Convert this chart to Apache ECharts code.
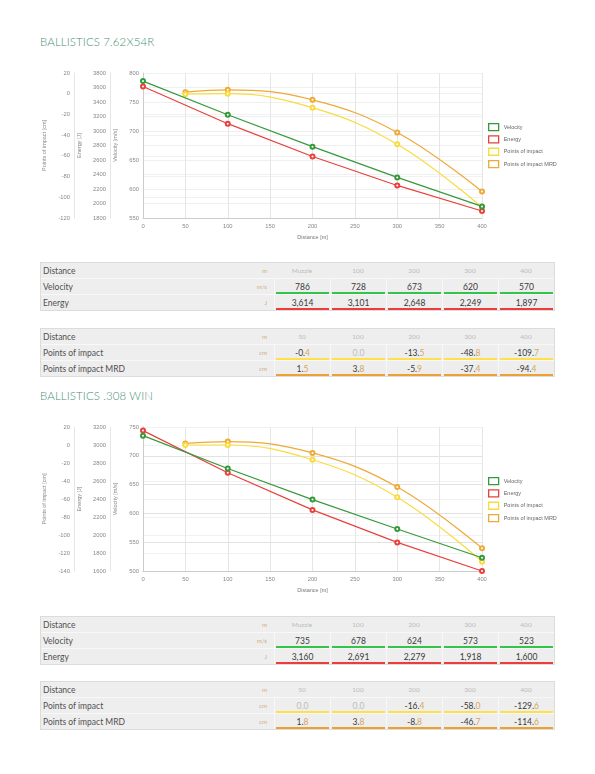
<!DOCTYPE html>
<html>
<head>
<meta charset="utf-8">
<script src="https://cdn.jsdelivr.net/npm/echarts@6/dist/echarts.min.js"></script>
<style>
  html, body { margin: 0; padding: 0; background: #fff; }
  body { width: 595px; height: 774px; position: relative; overflow: hidden; font-family: Lato, "Open Sans", sans-serif; }
  .title { position: absolute; left: 40px; font-size: 11.5px; font-weight: 300; color: #4b8f73; letter-spacing: 0.1px; white-space: nowrap; }
  .chart { position: absolute; left: 0; width: 595px; height: 190px; }
  table.tbl { position: absolute; left: 40px; width: 514px; table-layout: fixed; border-collapse: separate; border-spacing: 0;
    background: #eeeeee; border: 1px solid #dcdcdc; }
  table.tbl td { height: 15px; padding: 0; white-space: nowrap; overflow: hidden; vertical-align: middle; border-top: 1px solid #f8f8f8; }
  table.tbl tr:first-child td { border-top: none; }
  td.lab { font-size: 8.5px; font-weight: 400; color: #505050; padding-left: 2px !important; }
  td.unit { font-size: 6.2px; font-weight: 400; color: #cfae85; text-align: right; padding-right: 7px !important; }
  td.head { font-size: 6.5px; font-weight: 400; color: #bcbcbc; text-align: center; }
  td.val { font-size: 8.5px; font-weight: 400; color: #3a3a3a; text-align: center; position: relative; border-left: 1px solid #f8f8f8; }
  td.val::after { content: ""; position: absolute; left: 1px; right: 1px; bottom: 0; height: 2px; background: var(--c); }
  span.dec { color: #d7a55a; }
  span.zero { color: #bdbdbd; }
</style>
</head>
<body>
<div class="title" style="top:35px">BALLISTICS 7.62X54R</div>
<div id="c1" class="chart" style="top:60px"></div>
<div class="title" style="top:389px">BALLISTICS .308 WIN</div>
<div id="c2" class="chart" style="top:415px"></div>

<script>
// ---------- data ----------
const distances = [0, 100, 200, 300, 400];
const poiDistances = [50, 100, 200, 300, 400];
const distanceLabels = ['Muzzle', '100', '200', '300', '400'];
const poiDistanceLabels = ['50', '100', '200', '300', '400'];
const seriesNames = ['Velocity', 'Energy', 'Points of impact', 'Points of impact MRD'];

const velocity762 = [786, 728, 673, 620, 570];
const energy762 = [3614, 3101, 2648, 2249, 1897];
const poi762 = [-0.4, 0.0, -13.5, -48.8, -109.7];
const poiMrd762 = [1.5, 3.8, -5.9, -37.4, -94.4];

const velocity308 = [735, 678, 624, 573, 523];
const energy308 = [3160, 2691, 2279, 1918, 1600];
const poi308 = [0.0, 0.0, -16.4, -58.0, -129.6];
const poiMrd308 = [1.8, 3.8, -8.8, -46.7, -114.6];

// axis ranges [min, max, step]
const distanceAxis = [0, 400, 50];
const velocityAxis762 = [550, 800, 50];
const energyAxis762 = [1800, 3800, 200];
const poiAxis762 = [-120, 20, 20];
const velocityAxis308 = [500, 750, 50];
const energyAxis308 = [1600, 3200, 200];
const poiAxis308 = [-140, 20, 20];

// ---------- styles ----------
const lineColors = ['#36993a', '#e8413c', '#f8dc3e', '#eea936'];
const tableColors = ['#35c44a', '#ee3b3b', '#ffe04a', '#eda133'];
const TXT = '"Liberation Sans", Arial, sans-serif';

function pairs(xs, ys) { return xs.map((x, i) => [x, ys[i]]); }

function yAx(range, name, offset, gap, lineColor, splitColor) {
  return {
    type: 'value', position: 'left', offset: offset,
    min: range[0], max: range[1], interval: range[2],
    name: name, nameLocation: 'middle', nameGap: gap,
    nameTextStyle: { fontSize: 5.5, color: '#888', fontFamily: TXT },
    axisLine: { show: true, onZero: false, lineStyle: { color: lineColor, width: 1 } },
    axisTick: { show: false },
    axisLabel: { fontSize: 5.8, color: '#888', margin: 4, fontFamily: TXT, formatter: v => String(v) },
    splitLine: { show: true, lineStyle: { color: splitColor, width: 1 } }
  };
}

function buildChart(el, vel, en, poi, mrd, vAx, eAx, pAx, gridBottom, gridTop, legendTop) {
  const chart = echarts.init(el, null, { renderer: 'canvas' });
  const mk = (name, i, yIdx, data, smooth) => ({
    name: name, type: 'line', yAxisIndex: yIdx, data: data,
    smooth: smooth, symbol: 'emptyCircle', symbolSize: 4, showSymbol: true,
    lineStyle: { color: lineColors[i], width: 1.2 },
    itemStyle: { color: lineColors[i], borderColor: lineColors[i], borderWidth: 1 },
    emphasis: { disabled: true }, z: 10 - i
  });
  chart.setOption({
    animation: false,
    grid: { left: 143, right: 113, top: gridTop, bottom: gridBottom, containLabel: false },
    legend: {
      orient: 'vertical', left: 488, top: legendTop, padding: 0,
      itemWidth: 10, itemHeight: 7, itemGap: 4,
      icon: 'rect',
      textStyle: { fontSize: 5.5, color: '#666', fontFamily: TXT, lineHeight: 8 },
      data: seriesNames.map((n, i) => ({
        name: n,
        itemStyle: { color: 'rgba(255,255,255,0.6)', borderColor: lineColors[i], borderWidth: 1.3 }
      }))
    },
    xAxis: {
      type: 'value', min: distanceAxis[0], max: distanceAxis[1], interval: distanceAxis[2],
      name: 'Distance [m]', nameLocation: 'middle', nameGap: 16,
      nameTextStyle: { fontSize: 5.5, color: '#777', fontFamily: TXT },
      axisLine: { show: true, onZero: false, lineStyle: { color: '#cccccc' } },
      axisTick: { show: false },
      axisLabel: { fontSize: 5.8, color: '#888', margin: 5, fontFamily: TXT },
      splitLine: { show: true, lineStyle: { color: '#e6e6e6' } }
    },
    yAxis: [
      yAx(vAx, 'Velocity [m/s]', 0, 18, '#cccccc', '#e2e2e2'),
      yAx(eAx, 'Energy [J]', 33, 20, '#e6e6e6', '#efefef'),
      yAx(pAx, 'Points of impact [cm]', 69, 19, '#e6e6e6', '#f1f1f1')
    ],
    series: [
      mk(seriesNames[0], 0, 0, pairs(distances, vel), false),
      mk(seriesNames[1], 1, 1, pairs(distances, en), false),
      mk(seriesNames[2], 2, 2, pairs(poiDistances, poi), 0.4),
      mk(seriesNames[3], 3, 2, pairs(poiDistances, mrd), 0.4)
    ]
  });
}

buildChart(document.getElementById('c1'), velocity762, energy762, poi762, poiMrd762,
  velocityAxis762, energyAxis762, poiAxis762, 32, 13, 63);
buildChart(document.getElementById('c2'), velocity308, energy308, poi308, poiMrd308,
  velocityAxis308, energyAxis308, poiAxis308, 34, 12, 62);

// ---------- tables ----------
function fmtInt(v) { return v.toLocaleString('en-US'); }
function fmtDec(v) {
  const s = v.toFixed(1);
  if (v === 0) return '<span class="zero">' + s + '</span>';
  const parts = s.split('.');
  return parts[0] + '.<span class="dec">' + parts[1] + '</span>';
}
function table(top, headLabels, rows) {
  const t = document.createElement('table');
  t.className = 'tbl';
  t.style.top = top + 'px';
  let html = '<colgroup><col style="width:190px"><col style="width:43px">' +
    '<col style="width:56px"><col style="width:56px"><col style="width:56px"><col style="width:56px"><col style="width:56px"></colgroup>';
  html += '<tr><td class="lab">Distance</td><td class="unit">m</td>' +
    headLabels.map(h => '<td class="head">' + h + '</td>').join('') + '</tr>';
  rows.forEach(r => {
    html += '<tr><td class="lab">' + r.label + '</td><td class="unit">' + r.unit + '</td>' +
      r.values.map(v => '<td class="val" style="--c:' + r.color + '">' + r.fmt(v) + '</td>').join('') + '</tr>';
  });
  t.innerHTML = html;
  document.body.appendChild(t);
}

table(262, distanceLabels, [
  { label: 'Velocity', unit: 'm/s', values: velocity762, fmt: fmtInt, color: tableColors[0] },
  { label: 'Energy', unit: 'J', values: energy762, fmt: fmtInt, color: tableColors[1] }
]);
table(328, poiDistanceLabels, [
  { label: 'Points of impact', unit: 'cm', values: poi762, fmt: fmtDec, color: tableColors[2] },
  { label: 'Points of impact MRD', unit: 'cm', values: poiMrd762, fmt: fmtDec, color: tableColors[3] }
]);
table(616, distanceLabels, [
  { label: 'Velocity', unit: 'm/s', values: velocity308, fmt: fmtInt, color: tableColors[0] },
  { label: 'Energy', unit: 'J', values: energy308, fmt: fmtInt, color: tableColors[1] }
]);
table(681, poiDistanceLabels, [
  { label: 'Points of impact', unit: 'cm', values: poi308, fmt: fmtDec, color: tableColors[2] },
  { label: 'Points of impact MRD', unit: 'cm', values: poiMrd308, fmt: fmtDec, color: tableColors[3] }
]);
</script>
</body>
</html>
